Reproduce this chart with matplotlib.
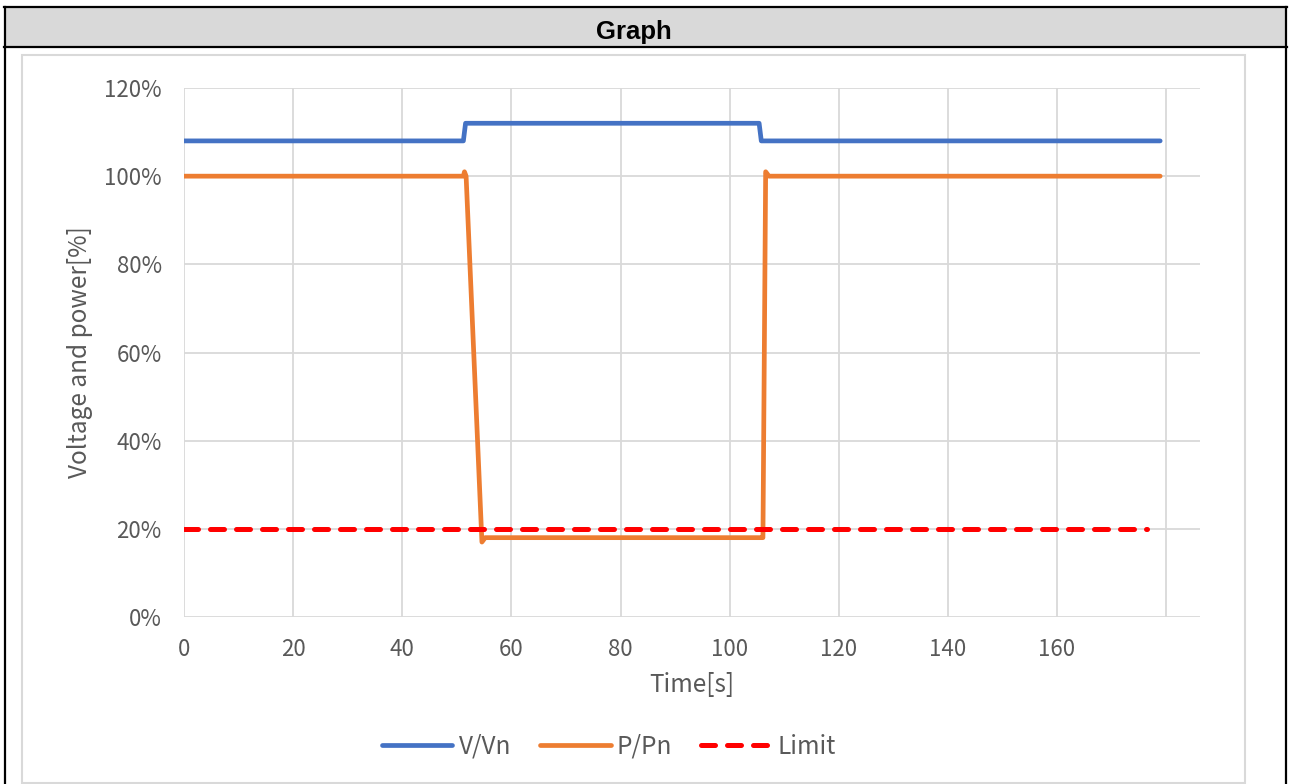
import matplotlib
matplotlib.use("Agg")
import matplotlib.pyplot as plt
from matplotlib.patches import Rectangle
from matplotlib.lines import Line2D

# ---- data ----
v_time = [0, 51.2, 51.6, 105.4, 105.8, 178.9]
v_vn = [108, 108, 112, 112, 108, 108]

p_time = [0, 51.2, 51.4, 51.7, 54.6, 55.2, 105.8, 106.1, 106.6, 107.2, 178.9]
p_pn = [100, 100, 101, 100, 17, 18, 18, 18, 101, 100, 100]

limit_time = [0, 176.5]
limit_val = [20, 20]

x_ticks = [0, 20, 40, 60, 80, 100, 120, 140, 160]
x_grid = [0, 20, 40, 60, 80, 100, 120, 140, 160, 180]
y_ticks = [0, 20, 40, 60, 80, 100, 120]

W, H = 1290, 784
fig = plt.figure(figsize=(W / 100, H / 100), dpi=100)
fig.patch.set_facecolor("white")


def fx(px):
    return px / W


def fy(py):
    return 1 - py / H


# header bar and table borders
fig.add_artist(Rectangle((fx(5), fy(47)), fx(1286) - fx(5), fy(7) - fy(47),
                         transform=fig.transFigure, facecolor="#d9d9d9",
                         edgecolor="none", zorder=0))
for (x0, y0, x1, y1) in [(4, 7, 1287, 7), (4, 47, 1287, 47),
                         (5, 7, 5, 784), (1286, 7, 1286, 784)]:
    fig.add_artist(Line2D([fx(x0), fx(x1)], [fy(y0), fy(y1)],
                          transform=fig.transFigure, color="black", lw=1.6))
fig.text(fx(634), fy(32.5), "Graph", ha="center", va="center",
         fontsize=18.5, fontweight="bold", family="Liberation Sans")

# chart frame
fig.add_artist(Rectangle((fx(22), fy(783)), fx(1245) - fx(22), fy(55) - fy(783),
                         transform=fig.transFigure, facecolor="none",
                         edgecolor="#d9d9d9", lw=1.5))

font = ["Noto Sans CJK SC", "DejaVu Sans"]
grey = "#595959"
fsize = 16

ax = fig.add_axes([fx(184), fy(617), fx(1200) - fx(184), fy(88) - fy(617)])
ax.set_xlim(0, 186.2)
ax.set_ylim(0, 120)
for s in ax.spines.values():
    s.set_visible(False)
for xv in x_grid:
    ax.axvline(xv, color="#d9d9d9", lw=1.3, zorder=0)
for yv in y_ticks:
    ax.axhline(yv, color="#d9d9d9", lw=1.3, zorder=0)

ax.set_xticks(x_ticks)
ax.set_xticklabels([str(t) for t in x_ticks])
ax.set_yticks(y_ticks)
ax.set_yticklabels([f"{t}%" for t in y_ticks])
ax.tick_params(length=0, colors=grey, labelsize=fsize)
ax.tick_params(axis="x", pad=15)
ax.tick_params(axis="y", pad=16)
for lab in ax.get_xticklabels() + ax.get_yticklabels():
    lab.set_family(font)

ax.set_xlabel("Time[s]", color=grey, fontsize=17.5, family=font, labelpad=8)
ax.set_ylabel("Voltage and power[%]", color=grey, fontsize=17.5, family=font, labelpad=8)

lw = 3.4
l1, = ax.plot(v_time, v_vn, color="#4472c4", lw=lw, solid_capstyle="round",
              solid_joinstyle="round", label="V/Vn", zorder=3)
l2, = ax.plot(p_time, p_pn, color="#ed7d31", lw=lw, solid_capstyle="round",
              solid_joinstyle="round", label="P/Pn", zorder=3)
l3, = ax.plot(limit_time, limit_val, color="#ff0000", lw=3.6,
              dash_capstyle="round", label="Limit", zorder=4)
l3.set_dashes((2.8, 2.4))

leg = fig.legend(handles=[l1, l2, l3], loc="center", bbox_to_anchor=(fx(609), fy(747)),
                 ncol=3, frameon=False, handlelength=2.9, handletextpad=0.25,
                 columnspacing=1.2, prop={"family": font, "size": 17.5})
for t in leg.get_texts():
    t.set_color(grey)

fig.savefig("out.png", dpi=100)
